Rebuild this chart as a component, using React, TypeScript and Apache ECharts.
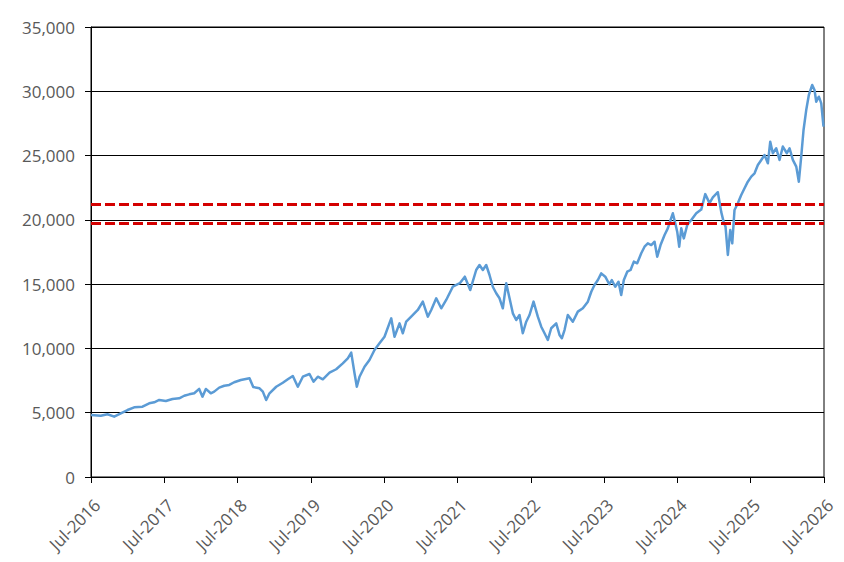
import React, { useEffect, useRef } from "react";
import * as echarts from "echarts";

// months since Jul-2016 (x positions of the sampled points)
const months: number[] = [
  0, 1.6, 2.7, 3.8, 4.88, 5.98, 7.07, 8.43, 9.53, 10.35,
  11.17, 12.25, 13.34, 14.44, 15.26, 16.08, 16.9, 17.71, 18.25, 18.8,
  19.61, 20.17, 20.99, 21.81, 22.63, 23.44, 24.53, 25.34, 25.95, 26.56,
  27.59, 28.13, 28.68, 29.22, 30.32, 31.4, 32.22, 33.04, 33.86, 34.68,
  35.77, 36.43, 37.13, 37.95, 39.05, 40.14, 41.22, 42.04, 42.6, 43.14,
  43.52, 43.96, 44.78, 45.59, 46.41, 47.23, 48.05, 49.15, 49.69, 50.51,
  51.05, 51.6, 52.42, 53.5, 54.32, 55.14, 55.7, 56.52, 57.34, 58.15,
  59.23, 60.38, 61.2, 62.08, 63.06, 63.6, 64.15, 64.7, 65.24, 65.78,
  66.34, 66.88, 67.42, 67.98, 68.52, 69.06, 69.61, 70.15, 70.69, 71.25,
  71.79, 72.45, 73.15, 73.71, 74.25, 74.79, 75.34, 76.16, 76.7, 77.08,
  77.52, 78.06, 78.88, 79.7, 80.52, 81.34, 81.9, 82.43, 82.98, 83.53,
  84.19, 84.85, 85.26, 85.82, 86.36, 86.8, 87.23, 87.79, 88.33, 88.87,
  89.42, 90.08, 90.62, 91.16, 91.72, 92.26, 92.7, 93.24, 93.9, 94.43,
  94.88, 95.25, 95.65, 95.97, 96.3, 96.63, 97.05, 97.61, 98.27, 99.09,
  99.9, 100.56, 101.26, 101.8, 102.62, 103.18, 103.56, 103.88, 104.26, 104.65,
  104.98, 105.35, 105.89, 106.45, 106.99, 107.53, 108.09, 108.63, 109.17, 109.73,
  110.27, 110.81, 111.2, 111.62, 112.18, 112.72, 113.26, 113.92, 114.36, 114.9,
  115.46, 115.88, 116.27, 116.65, 117.09, 117.52, 118.07, 118.45, 118.73, 119.16,
  119.55, 119.92,
];

// index level at each sampled point
const values: number[] = [
  4820, 4770, 4880, 4690, 4950, 5210, 5420, 5470, 5730, 5810,
  5990, 5910, 6070, 6120, 6320, 6430, 6510, 6850, 6250, 6850,
  6510, 6640, 6950, 7100, 7160, 7370, 7540, 7620, 7680, 7000,
  6900, 6640, 5990, 6510, 7020, 7330, 7600, 7860, 7020, 7800,
  8010, 7410, 7800, 7600, 8110, 8380, 8840, 9230, 9670, 8070,
  7020, 7800, 8580, 9100, 9880, 10400, 10910, 12340, 10910, 11950,
  11180, 12080, 12470, 12990, 13640, 12470, 12990, 13900, 13120, 13770,
  14800, 15070, 15580, 14540, 16100, 16490, 16100, 16490, 15710, 14800,
  14290, 13900, 13120, 15070, 13900, 12730, 12210, 12600, 11180, 12080,
  12600, 13640, 12470, 11690, 11180, 10660, 11570, 11950, 11050, 10790,
  11430, 12600, 12080, 12860, 13120, 13640, 14410, 14930, 15320, 15840,
  15580, 14990, 15320, 14800, 15190, 14160, 15320, 15970, 16100, 16750,
  16620, 17400, 17910, 18170, 18040, 18300, 17130, 18040, 18820, 19340,
  19990, 20510, 19730, 19080, 17910, 19340, 18560, 19600, 19990, 20510,
  20800, 22000, 21300, 21750, 22150, 20600, 19860, 19470, 17270, 19210,
  18170, 20770, 21290, 21930, 22460, 22970, 23360, 23620, 24270, 24660,
  25040, 24400, 26080, 25180, 25570, 24660, 25700, 25180, 25570, 24660,
  24140, 22970, 24920, 26990, 28540, 29710, 30490, 30100, 29190, 29580,
  29060, 27250,
];

const refLevels: number[] = [21250, 19750];
const startYear = 2016;
const yMax = 35000;
const yStep = 5000;
const xStepMonths = 12;
const xMaxMonths = 120;

export default function App() {
  const ref = useRef<HTMLDivElement>(null);
  useEffect(() => {
    if (!ref.current) return;
    const chart = echarts.init(ref.current, null, { renderer: "svg" });
    const font = "'Open Sans', sans-serif";
    chart.setOption({
      animation: false,
      backgroundColor: "#ffffff",
      grid: { left: 91, right: 20, top: 27, bottom: 85, show: true, borderColor: "#000", borderWidth: 1 },
      xAxis: {
        type: "value",
        min: 0,
        max: xMaxMonths,
        interval: xStepMonths,
        axisLine: { show: true, lineStyle: { color: "#000", width: 1 } },
        axisTick: { show: true, length: 6, lineStyle: { color: "#000" } },
        splitLine: { show: false },
        axisLabel: {
          rotate: 45,
          margin: 19,
          align: "right",
          verticalAlign: "top",
          color: "#595959",
          fontSize: 17,
          fontFamily: font,
          formatter: (v: number) => "Jul-" + (startYear + Math.round(v / 12)),
        },
      },
      yAxis: {
        type: "value",
        min: 0,
        max: yMax,
        interval: yStep,
        axisLine: { show: true, lineStyle: { color: "#000", width: 1 } },
        axisTick: { show: true, length: 6, lineStyle: { color: "#000" } },
        splitLine: { show: true, lineStyle: { color: "#000", width: 1 } },
        axisLabel: {
          margin: 16,
          color: "#595959",
          fontSize: 17,
          fontFamily: font,
          formatter: (v: number) => v.toLocaleString("en-US"),
        },
      },
      series: [
        {
          type: "line",
          data: months.map((m, i) => [m, values[i]]),
          showSymbol: false,
          symbol: "none",
          lineStyle: { color: "#5B9BD5", width: 2.5, join: "round" },
          markLine: {
            silent: true,
            symbol: "none",
            label: { show: false },
            lineStyle: { color: "#D40000", width: 3, type: [10, 4] },
            data: refLevels.map((v) => ({ yAxis: v })),
          },
        },
      ],
    });
    return () => chart.dispose();
  }, []);
  return (
    <div
      ref={ref}
      style={{ position: "absolute", left: 0, top: 0, width: 844, height: 562, background: "#fff" }}
    />
  );
}
